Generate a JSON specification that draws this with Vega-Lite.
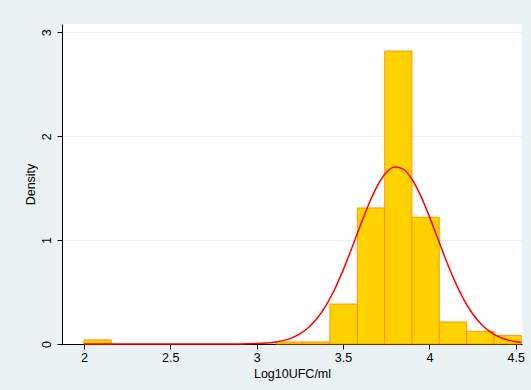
{
  "$schema": "https://vega.github.io/schema/vega-lite/v6.json",
  "width": 460,
  "height": 320,
  "autosize": {"type": "none"},
  "padding": {"left": 62, "top": 24, "right": 9, "bottom": 46},
  "background": "#EAF2F3",
  "config": {
    "font": "Liberation Sans",
    "view": {"fill": "white", "stroke": null},
    "axis": {
      "domainColor": "black",
      "tickColor": "black",
      "labelColor": "black",
      "titleColor": "black",
      "labelFontSize": 12.5,
      "titleFontSize": 12.5,
      "titleFontWeight": "normal",
      "tickSize": 5,
      "domainWidth": 1,
      "tickWidth": 1
    }
  },
  "datasets": {
    "bins": [
      {"bin_start": 2.0, "bin_end": 2.158, "density": 0.04},
      {"bin_start": 3.108, "bin_end": 3.266, "density": 0.02},
      {"bin_start": 3.266, "bin_end": 3.424, "density": 0.02},
      {"bin_start": 3.424, "bin_end": 3.583, "density": 0.385},
      {"bin_start": 3.583, "bin_end": 3.741, "density": 1.31},
      {"bin_start": 3.741, "bin_end": 3.899, "density": 2.82},
      {"bin_start": 3.899, "bin_end": 4.057, "density": 1.22},
      {"bin_start": 4.057, "bin_end": 4.216, "density": 0.212},
      {"bin_start": 4.216, "bin_end": 4.374, "density": 0.122},
      {"bin_start": 4.374, "bin_end": 4.532, "density": 0.082}
    ],
    "curve": [
      {"x": 2.0, "y": 0},
      {"x": 2.5, "y": 0},
      {"x": 2.9, "y": 0.0009},
      {"x": 3.0, "y": 0.0043},
      {"x": 3.1, "y": 0.0171},
      {"x": 3.2, "y": 0.057},
      {"x": 3.25, "y": 0.0973},
      {"x": 3.3, "y": 0.1585},
      {"x": 3.35, "y": 0.247},
      {"x": 3.4, "y": 0.3674},
      {"x": 3.45, "y": 0.5221},
      {"x": 3.5, "y": 0.7089},
      {"x": 3.55, "y": 0.9197},
      {"x": 3.6, "y": 1.1398},
      {"x": 3.65, "y": 1.3495},
      {"x": 3.7, "y": 1.5267},
      {"x": 3.75, "y": 1.65},
      {"x": 3.8, "y": 1.7034},
      {"x": 3.85, "y": 1.6803},
      {"x": 3.9, "y": 1.5834},
      {"x": 3.95, "y": 1.4255},
      {"x": 4.0, "y": 1.2262},
      {"x": 4.05, "y": 1.0077},
      {"x": 4.1, "y": 0.7911},
      {"x": 4.15, "y": 0.5933},
      {"x": 4.2, "y": 0.4252},
      {"x": 4.25, "y": 0.291},
      {"x": 4.3, "y": 0.1903},
      {"x": 4.35, "y": 0.119},
      {"x": 4.4, "y": 0.071},
      {"x": 4.45, "y": 0.0405},
      {"x": 4.5, "y": 0.0221},
      {"x": 4.53, "y": 0.015}
    ]
  },
  "layer": [
    {
      "data": {"name": "bins"},
      "mark": {"type": "rect", "fill": "#FFD200", "stroke": "#FF8C00", "strokeWidth": 1, "strokeOpacity": 0.85},
      "encoding": {
        "x": {
          "field": "bin_start", "type": "quantitative",
          "scale": {"domain": [1.873, 4.536], "nice": false, "zero": false},
          "axis": {"values": [2, 2.5, 3, 3.5, 4, 4.5], "grid": false, "title": "Log10UFC/ml", "labelPadding": 2, "titlePadding": 4, "format": "~g"}
        },
        "x2": {"field": "bin_end"},
        "y": {
          "field": "density", "type": "quantitative",
          "scale": {"domain": [0, 3.08], "nice": false},
          "axis": {"values": [0, 1, 2, 3], "format": "d", "title": "Density", "labelAngle": -90, "labelAlign": "center", "labelBaseline": "bottom", "labelPadding": 4, "titlePadding": 3, "grid": true, "gridColor": "#EAF2F3", "gridWidth": 1.2}
        },
        "y2": {"datum": 0}
      }
    },
    {
      "data": {"name": "curve"},
      "mark": {"type": "line", "color": "#FF0000", "strokeWidth": 1.5, "interpolate": "monotone"},
      "encoding": {
        "x": {"field": "x", "type": "quantitative"},
        "y": {"field": "y", "type": "quantitative"}
      }
    }
  ]
}
